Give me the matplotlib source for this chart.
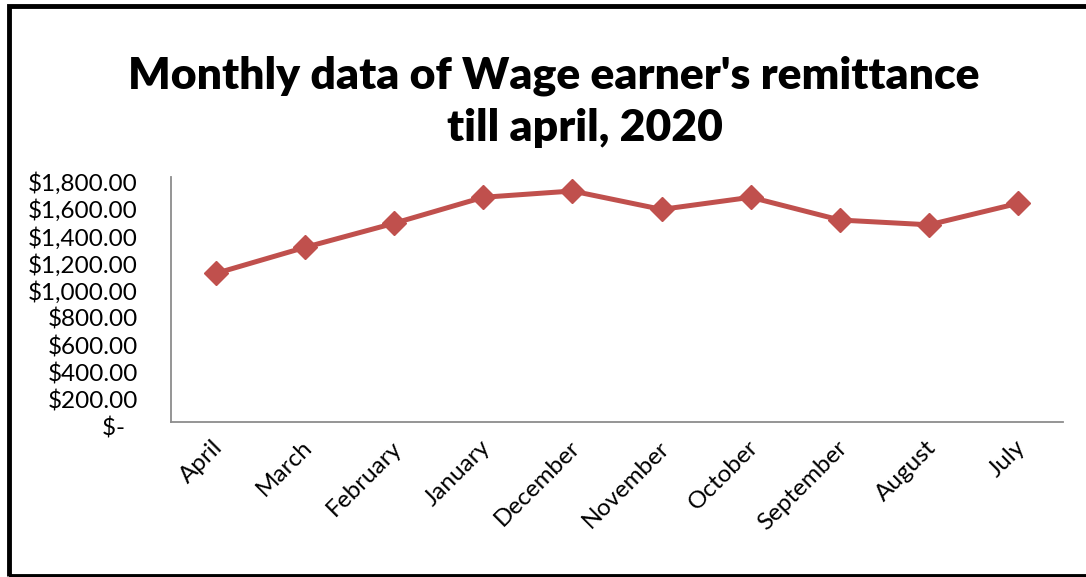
import matplotlib
matplotlib.use("Agg")
import matplotlib.pyplot as plt
import matplotlib.transforms as mtransforms
from matplotlib.patches import Rectangle
from matplotlib.ticker import FuncFormatter

months = ["April", "March", "February", "January", "December",
          "November", "October", "September", "August", "July"]
remittance = [1090, 1281, 1458, 1649, 1695, 1560, 1649, 1482, 1447, 1605]
y_ticks = [0, 200, 400, 600, 800, 1000, 1200, 1400, 1600, 1800]
title_line1 = "Monthly data of Wage earner's remittance"
title_line2 = "till april, 2020"

W, H = 1086, 577
fig = plt.figure(figsize=(W / 100, H / 100), dpi=100)
plt.rcParams['font.family'] = ['Lato', 'DejaVu Sans']

ax = fig.add_axes([171 / W, (H - 422) / H, (1063 - 171) / W, (422 - 176.7) / H])

x = list(range(len(months)))
ax.plot(x, remittance, color="#C0504D", linewidth=3.6, marker="D",
        markersize=12, markeredgecolor="#C0504D", markerfacecolor="#C0504D",
        solid_joinstyle="round", clip_on=False, zorder=3)

ax.set_xlim(-0.5, len(months) - 0.5)
ax.set_ylim(0, 1800)
ax.set_yticks(y_ticks)


def money(v, pos):
    if v == 0:
        return "$-  "
    return "${:,.2f}".format(v)


ax.yaxis.set_major_formatter(FuncFormatter(money))
ax.set_xticks(x)
ax.set_xticklabels(months)

for side in ["top", "right"]:
    ax.spines[side].set_visible(False)
for side in ["left", "bottom"]:
    ax.spines[side].set_color("#8C8C8C")
    ax.spines[side].set_linewidth(1.3)

ax.tick_params(axis="both", length=0)
ax.tick_params(axis="y", pad=24, labelsize=17.5, labelcolor="black")
ax.tick_params(axis="x", pad=16, labelsize=17.5, labelcolor="black")

offset = mtransforms.ScaledTranslation(0, -5 / 100, fig.dpi_scale_trans)
for lbl in ax.get_yticklabels():
    lbl.set_transform(lbl.get_transform() + offset)

xoffset = mtransforms.ScaledTranslation(4 / 100, 0, fig.dpi_scale_trans)
for lbl in ax.get_xticklabels():
    lbl.set_rotation(45)
    lbl.set_ha("right")
    lbl.set_va("center")
    lbl.set_rotation_mode("anchor")
    lbl.set_transform(lbl.get_transform() + xoffset)

fig.text(554 / W, 1 - 88 / H, title_line1, ha="center", va="baseline",
         fontsize=32, fontweight="heavy")
fig.text(585 / W, 1 - 141 / H, title_line2, ha="center", va="baseline",
         fontsize=32, fontweight="heavy")

# outer border (left, top, bottom visible; right cut off)
fig.patches.append(Rectangle((9 / W, 1 - 576 / H), 1.2, (576 - 5.5) / H,
                             transform=fig.transFigure, fill=False,
                             edgecolor="black", linewidth=3.5))

fig.savefig("out.png", dpi=100)
